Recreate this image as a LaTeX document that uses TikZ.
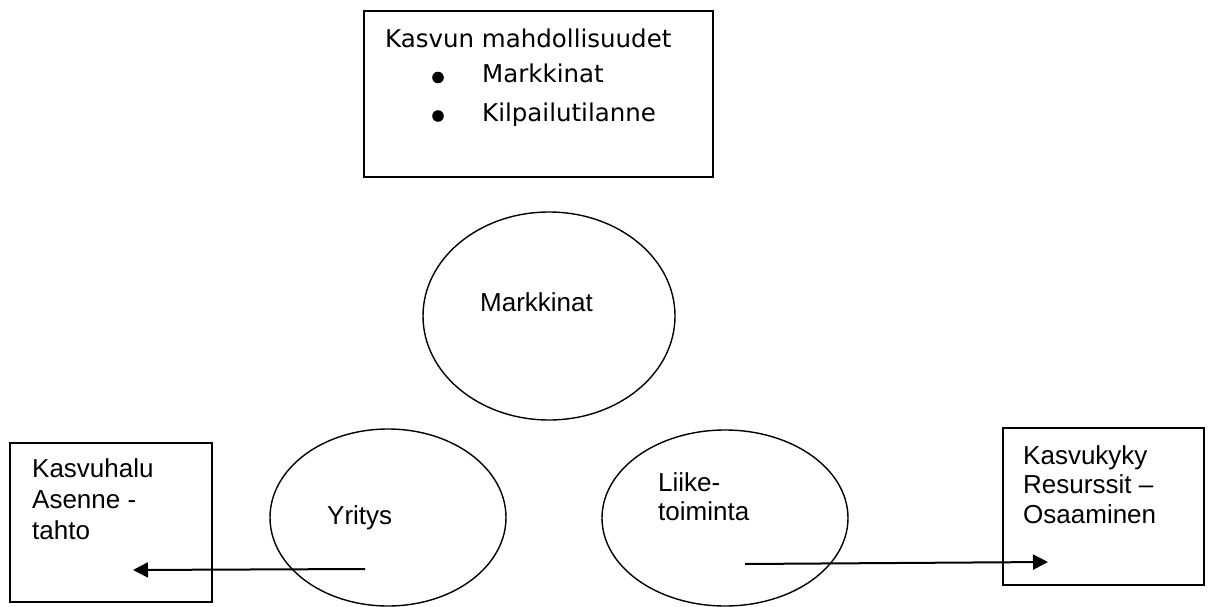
\documentclass[tikz,border=0pt]{standalone}
\usepackage{fontspec}
\setmainfont{Liberation Sans}
\newfontfamily\boxfont{DejaVu Sans}
\usetikzlibrary{shapes.geometric,arrows.meta}

\begin{document}
\begin{tikzpicture}[x=1pt,y=-1pt,
  frame/.style={draw, line width=1.6pt, rectangle, inner sep=0pt},
  oval/.style={draw, line width=1.4pt, ellipse, inner sep=0pt},
  txt/.style={anchor=base west, inner sep=0pt, font=\fontsize{26}{30}\selectfont},
  toptxt/.style={anchor=base west, inner sep=0pt, font=\boxfont\fontsize{24.5}{30}\selectfont},
  arr/.style={line width=2pt, -{Triangle[length=15pt,width=15pt]}}]
\useasboundingbox (0,0) rectangle (1210,607);

% growth opportunities box
\node[frame, minimum width=349pt, minimum height=166pt] (opp) at (538.5,94) {};
\node[toptxt] (oppT) at (385,48) {Kasvun mahdollisuudet};
\fill (438,77.5) circle (5.8pt);
\node[toptxt] (oppA) at (482,83) {Markkinat};
\fill (438,116) circle (5.8pt);
\node[toptxt] (oppB) at (482,122) {Kilpailutilanne};

% three circles
\node[oval, minimum width=252pt, minimum height=208pt] (mk) at (549,316) {};
\node[txt] (mkT) at (480,311) {Markkinat};

\node[oval, minimum width=236pt, minimum height=177pt] (yr) at (388,517.5) {};
\node[txt] (yrT) at (327,524) {Yritys};

\node[oval, minimum width=246pt, minimum height=176pt] (lt) at (725,518) {};
\node[txt] (ltA) at (658,491) {Liike-};
\node[txt] (ltB) at (658,520) {toiminta};

% side boxes
\node[frame, minimum width=202pt, minimum height=159pt] (will) at (111,522.5) {};
\node[txt] (willA) at (32,477) {Kasvuhalu};
\node[txt] (willB) at (32,508) {Asenne -};
\node[txt] (willC) at (32,539) {tahto};

\node[frame, minimum width=201pt, minimum height=157pt] (abil) at (1103.5,506.5) {};
\node[txt] (abilA) at (1023,464) {Kasvukyky};
\node[txt] (abilB) at (1023,493) {Resurssit --};
\node[txt] (abilC) at (1023,523) {Osaaminen};

% arrows
\coordinate (yrS) at (365,569);
\coordinate (willE) at (133,570);
\coordinate (ltS) at (745,564);
\coordinate (abilE) at (1048,562);
\draw[arr] (yrS) -- (willE);
\draw[arr] (ltS) -- (abilE);
\end{tikzpicture}
\end{document}
